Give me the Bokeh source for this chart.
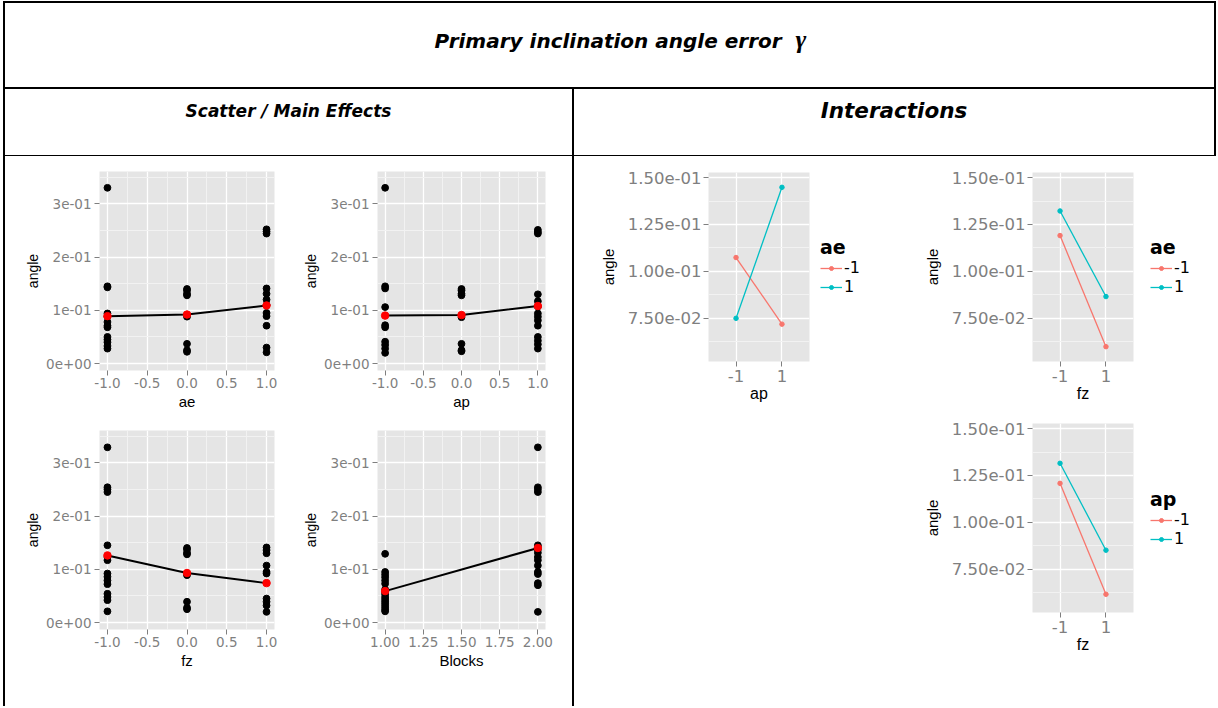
from bokeh.plotting import figure
from bokeh.models import (Div, Range1d, FixedTicker, CustomJSTickFormatter,
                          Legend, LegendItem, Spacer)
from bokeh.layouts import row, column
from bokeh.embed import file_html
from bokeh.resources import INLINE

# ---------------- data ----------------
# scatter / main effects: angle values at each factor level
ae_levels = [-1.0, 0.0, 1.0]
ae_at_m1 = [0.330, 0.145, 0.143, 0.094, 0.088, 0.078, 0.071, 0.068, 0.050, 0.045, 0.040, 0.033, 0.028]
ae_at_0 = [0.140, 0.137, 0.131, 0.128, 0.088, 0.037, 0.025, 0.022]
ae_at_p1 = [0.252, 0.248, 0.244, 0.141, 0.131, 0.120, 0.110, 0.095, 0.089, 0.071, 0.030, 0.021]
ae_means = [0.089, 0.092, 0.109]

ap_levels = [-1.0, 0.0, 1.0]
ap_at_m1 = [0.330, 0.145, 0.141, 0.106, 0.072, 0.068, 0.041, 0.035, 0.028, 0.020]
ap_at_0 = [0.140, 0.137, 0.131, 0.128, 0.087, 0.037, 0.025, 0.023]
ap_at_p1 = [0.251, 0.247, 0.244, 0.130, 0.117, 0.107, 0.094, 0.088, 0.081, 0.071, 0.050, 0.043, 0.036, 0.028]
ap_means = [0.090, 0.091, 0.108]

fz_levels = [-1.0, 0.0, 1.0]
fz_at_m1 = [0.329, 0.254, 0.250, 0.245, 0.145, 0.123, 0.117, 0.092, 0.086, 0.079, 0.072, 0.054, 0.048, 0.042, 0.021]
fz_at_0 = [0.140, 0.137, 0.131, 0.128, 0.089, 0.039, 0.028, 0.025]
fz_at_p1 = [0.141, 0.136, 0.130, 0.107, 0.095, 0.092, 0.045, 0.039, 0.032, 0.020]
fz_means = [0.126, 0.093, 0.074]

block_levels = [1.0, 2.0]
block_1 = [0.129, 0.095, 0.090, 0.085, 0.079, 0.073, 0.062, 0.057, 0.053, 0.048, 0.044,
           0.040, 0.036, 0.032, 0.028, 0.024, 0.021]
block_2 = [0.329, 0.254, 0.250, 0.245, 0.145, 0.141, 0.137, 0.131, 0.123, 0.117, 0.107,
           0.095, 0.091, 0.074, 0.070, 0.020]
block_means = [0.059, 0.140]

# interactions: mean angle at the two levels of the x factor
inter_levels = [-1, 1]
ap_ae_m1 = [0.1074, 0.0719]   # ae = -1
ap_ae_p1 = [0.0750, 0.1448]   # ae = 1
fz_ae_m1 = [0.1191, 0.0599]   # ae = -1
fz_ae_p1 = [0.1322, 0.0866]   # ae = 1
fz_ap_m1 = [0.1208, 0.0617]   # ap = -1
fz_ap_p1 = [0.1315, 0.0852]   # ap = 1
legend_labels = ["-1", "1"]

scatter_yticks = [0.0, 0.1, 0.2, 0.3]
scatter_yminor = [0.05, 0.15, 0.25, 0.35]
factor_xticks = [-1.0, -0.5, 0.0, 0.5, 1.0]
factor_xminor = [-0.75, -0.25, 0.25, 0.75]
block_xticks = [1.0, 1.25, 1.5, 1.75, 2.0]
block_xminor = [1.125, 1.375, 1.625, 1.875]
inter_yticks = [0.075, 0.100, 0.125, 0.150]
inter_yminor = [0.0625, 0.0875, 0.1125, 0.1375]

# ---------------- styling ----------------
PANEL_BG = "#E5E5E5"
MINOR = "#F2F2F2"
TICK_GREY = "#7F7F7F"
RED = "#F8766D"
TEAL = "#00BFC4"

EXP_FMT = ("var s = tick.toExponential(%d);"
           "return s.replace(/e([+-])(\\d)$/, function(m, a, b){return 'e' + a + '0' + b;});")


def style_common(p):
    p.background_fill_color = PANEL_BG
    p.border_fill_color = "white"
    p.outline_line_color = None
    for ax in (p.xaxis[0], p.yaxis[0]):
        ax.axis_line_color = None
        ax.major_tick_line_color = TICK_GREY
        ax.major_tick_line_width = 1
        ax.major_tick_out = 5
        ax.major_tick_in = 0
        ax.minor_tick_line_color = None
        ax.major_label_text_color = TICK_GREY
        ax.major_label_text_font = "DejaVu Sans"
        ax.axis_label_text_color = "black"
        ax.axis_label_text_font = "Liberation Sans"
        ax.axis_label_text_font_style = "normal"
    for g in (p.xgrid[0], p.ygrid[0]):
        g.grid_line_color = "white"
        g.grid_line_width = 1.3
        g.minor_grid_line_color = MINOR
        g.minor_grid_line_width = 1


def scatter_panel(xlabel, levels, groups, means, xr, xticks, xminor, digits,
                  w, h, bl, br, bt, bb):
    p = figure(width=w, height=h,
               min_border_left=bl, min_border_right=br,
               min_border_top=bt, min_border_bottom=bb,
               x_range=Range1d(*xr), y_range=Range1d(-0.0131, 0.3606),
               output_backend="svg", toolbar_location=None)
    style_common(p)
    xt = FixedTicker(ticks=xticks, minor_ticks=xminor)
    yt = FixedTicker(ticks=scatter_yticks, minor_ticks=scatter_yminor)
    p.xaxis.ticker = xt
    p.xgrid.ticker = xt
    p.yaxis.ticker = yt
    p.ygrid.ticker = yt
    p.xaxis.formatter = CustomJSTickFormatter(code="return tick.toFixed(%d);" % digits)
    p.yaxis.formatter = CustomJSTickFormatter(code=EXP_FMT % 0)
    for ax in (p.xaxis[0], p.yaxis[0]):
        ax.major_label_text_font_size = "13.5px"
    p.xaxis.major_label_standoff = 2
    p.yaxis.major_label_standoff = 3
    p.xaxis.axis_label = xlabel
    p.yaxis.axis_label = "angle"
    p.xaxis.axis_label_text_font_size = "15px"
    p.yaxis.axis_label_text_font_size = "14px"
    p.xaxis.axis_label_standoff = 2
    p.yaxis.axis_label_standoff = 2
    for lev, vals in zip(levels, groups):
        p.scatter([lev] * len(vals), vals, size=6.8, color="black")
    p.line(levels, means, line_color="black", line_width=2)
    p.scatter(levels, means, size=7.5, color="red")
    return p


def inter_panel(xlabel, lo_vals, hi_vals, w, h, bl, br, bt, bb):
    p = figure(width=w, height=h,
               min_border_left=bl, min_border_right=br,
               min_border_top=bt, min_border_bottom=bb,
               x_range=Range1d(-2.2, 2.2), y_range=Range1d(0.0520, 0.1527),
               output_backend="svg", toolbar_location=None)
    style_common(p)
    xt = FixedTicker(ticks=inter_levels, minor_ticks=[])
    yt = FixedTicker(ticks=inter_yticks, minor_ticks=inter_yminor)
    p.xaxis.ticker = xt
    p.xgrid.ticker = xt
    p.yaxis.ticker = yt
    p.ygrid.ticker = yt
    p.xaxis.formatter = CustomJSTickFormatter(code="return tick.toFixed(0);")
    p.yaxis.formatter = CustomJSTickFormatter(code=EXP_FMT % 2)
    for ax in (p.xaxis[0], p.yaxis[0]):
        ax.major_label_text_font_size = "16.5px"
    p.xaxis.major_label_standoff = 3
    p.yaxis.major_label_standoff = 2
    p.xaxis.axis_label = xlabel
    p.yaxis.axis_label = "angle"
    p.xaxis.axis_label_text_font_size = "16px"
    p.yaxis.axis_label_text_font_size = "15px"
    p.xaxis.axis_label_standoff = 0
    p.yaxis.axis_label_standoff = 8
    p.line(inter_levels, lo_vals, line_color=RED, line_width=1.3)
    p.scatter(inter_levels, lo_vals, size=4.5, color=RED)
    p.line(inter_levels, hi_vals, line_color=TEAL, line_width=1.3)
    p.scatter(inter_levels, hi_vals, size=4.5, color=TEAL)
    return p


def legend_box(title, lo_vals, hi_vals, w, h, offset):
    """A small figure that holds only the colour key of an interaction panel.
    Its ranges lie away from the data, so only the key itself is seen."""
    p = figure(width=w, height=h, x_axis_type=None, y_axis_type=None,
               x_range=Range1d(10, 11), y_range=Range1d(10, 11),
               min_border_left=0, min_border_right=0,
               min_border_top=0, min_border_bottom=0,
               output_backend="svg", toolbar_location=None)
    p.outline_line_color = None
    p.background_fill_color = "white"
    p.border_fill_color = "white"
    items = []
    for lab, col, vals in zip(legend_labels, [RED, TEAL], [lo_vals, hi_vals]):
        lr = p.line(inter_levels, vals, line_color=col, line_width=1.3)
        sr = p.scatter(inter_levels, vals, color=col, size=4.5)
        items.append(LegendItem(label=lab, renderers=[lr, sr]))
    leg = Legend(items=items, title=title, location="left")
    leg.title_text_font = "DejaVu Sans"
    leg.title_text_font_style = "bold"
    leg.title_text_font_size = "19px"
    leg.title_text_color = "black"
    leg.title_standoff = 0
    leg.label_text_font = "DejaVu Sans"
    leg.label_text_font_size = "16px"
    leg.label_text_color = "black"
    leg.label_standoff = 2
    leg.glyph_width = 22
    leg.glyph_height = 10
    leg.label_height = 18
    leg.spacing = 0
    leg.padding = 2
    leg.margin = offset
    leg.border_line_color = None
    leg.background_fill_alpha = 0
    p.add_layout(leg)
    return p


# ---------------- panels ----------------
f1 = scatter_panel("ae", ae_levels, [ae_at_m1, ae_at_0, ae_at_p1], ae_means,
                   (-1.1, 1.1), factor_xticks, factor_xminor, 1, 295, 259, 94, 26, 15, 45)
f2 = scatter_panel("ap", ap_levels, [ap_at_m1, ap_at_0, ap_at_p1], ap_means,
                   (-1.1, 1.1), factor_xticks, factor_xminor, 1, 272, 259, 70, 27, 15, 45)
f3 = scatter_panel("fz", fz_levels, [fz_at_m1, fz_at_0, fz_at_p1], fz_means,
                   (-1.1, 1.1), factor_xticks, factor_xminor, 1, 295, 291, 94, 26, 15, 77)
f4 = scatter_panel("Blocks", block_levels, [block_1, block_2], block_means,
                   (0.95, 2.05), block_xticks, block_xminor, 2, 272, 291, 70, 27, 15, 77)

i1 = inter_panel("ap", ap_ae_m1, ap_ae_p1, 240, 254, 134, 5, 16, 49)
g1 = legend_box("ae", ap_ae_m1, ap_ae_p1, 86, 220, 6)
i2 = inter_panel("fz", fz_ae_m1, fz_ae_p1, 236, 254, 132, 3, 16, 49)
g2 = legend_box("ae", fz_ae_m1, fz_ae_p1, 78, 220, 14)
i3 = inter_panel("fz", fz_ap_m1, fz_ap_p1, 236, 296, 132, 3, 13, 94)
g3 = legend_box("ap", fz_ap_m1, fz_ap_p1, 78, 216, 14)


# ---------------- table frame ----------------
def black(w, h):
    return Div(text="", width=w, height=h, margin=0,
               styles={"background-color": "black"})


def blank(w, h):
    return Spacer(width=w, height=h, margin=0)


def cell(text, w, h, size, pad, pad_left=0):
    html = ('<div style="width:%dpx;height:%dpx;box-sizing:border-box;padding-top:%dpx;'
            'padding-left:%dpx;text-align:center;font-family:\'DejaVu Sans\';font-size:%spx;'
            'font-weight:bold;font-style:italic;color:black;line-height:24px;'
            'white-space:nowrap;">%s</div>'
            % (w, h, pad, pad_left, size, text))
    return Div(text=html, width=w, height=h, margin=0)


def hrow(*items):
    return row(*items, spacing=0, margin=0)


def vcol(*items):
    return column(*items, spacing=0, margin=0)


title_html = ('Primary inclination angle error&nbsp; '
              '<span style="font-family:\'Liberation Serif\';font-size:26px;">&gamma;</span>')

top_gap = blank(1216, 1)
top_line = hrow(blank(3, 2), black(1213, 2))
title_row = hrow(blank(3, 84), black(2, 84), cell(title_html, 1209, 84, 20, 25, 22),
                 black(2, 84))
line2 = hrow(blank(3, 2), black(1213, 2))
sub_row = hrow(blank(3, 66), black(2, 66),
               cell("Scatter / Main Effects", 567, 66, 17, 10),
               black(2, 66),
               cell("Interactions", 640, 66, 21.5, 10),
               black(2, 66))
line3 = hrow(blank(3, 1), black(1213, 1))

left_grid = vcol(hrow(f1, f2), hrow(f3, f4))
right_grid = vcol(hrow(i1, vcol(g1, blank(86, 34)), i2, vcol(g2, blank(78, 34))),
                  hrow(blank(326, 296), i3, vcol(g3, blank(78, 80))))
content = hrow(blank(3, 550), black(2, 550), left_grid, black(2, 550), right_grid,
               blank(2, 550))

page = vcol(top_gap, top_line, title_row, line2, sub_row, line3, content)

open("out.html", "w").write(file_html(page, INLINE))
